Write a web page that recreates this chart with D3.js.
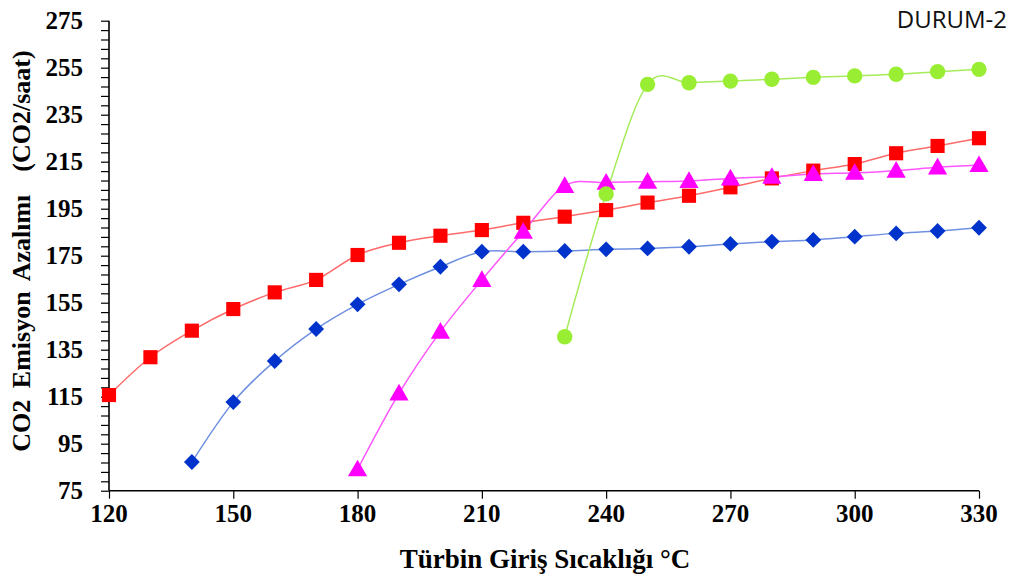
<!DOCTYPE html>
<html>
<head>
<meta charset="utf-8">
<script src="https://cdn.jsdelivr.net/npm/d3@7"></script>
<style>
  html, body { margin: 0; padding: 0; background: #fff; }
  svg { display: block; }
</style>
</head>
<body>
<svg id="chart" width="1014" height="580"></svg>
<script>
// Turbine inlet temperature (°C)
const temps = [120,130,140,150,160,170,180,190,200,210,220,230,240,250,260,270,280,290,300,310,320,330];

// CO2 emission reduction series (CO2/saat), each starting at its first temperature
const redStart = 120;
const redValues = [115.7,131.8,143.1,152.3,159.4,164.7,175.3,180.5,183.5,185.9,189.0,191.6,194.4,197.6,200.5,204.1,207.9,211.2,214.0,218.6,221.7,225.0];

const blueStart = 140;
const blueValues = [87.2,112.7,130.2,143.8,154.3,162.8,170.3,176.7,176.7,177.0,177.7,178.1,178.8,180.0,181.0,181.7,183.1,184.5,185.5,186.9];

const magentaStart = 180;
const magentaValues = [84.1,116.4,142.7,164.7,185.2,204.7,206.1,206.5,206.8,207.9,208.6,209.8,210.3,211.2,212.6,213.6];

const greenStart = 230;
const greenValues = [140.5,201.3,247.9,248.6,249.3,250.1,250.9,251.5,252.2,253.3,254.3];

// Axis ticks
const xTicks = [120,150,180,210,240,270,300,330];
const yTicks = [75,95,115,135,155,175,195,215,235,255,275];

const svg = d3.select("#chart");

const x = d3.scaleLinear().domain([120, 330]).range([109, 979]);
const y = d3.scaleLinear().domain([75, 275]).range([490.7, 20.7]);

function toPoints(start, values) {
  return values.map((v, i) => ({ t: temps[temps.indexOf(start) + i], v }));
}

const series = [
  { name: "red", pts: toPoints(redStart, redValues), line: "#ff6a6a", fill: "#ff0000", marker: "square" },
  { name: "blue", pts: toPoints(blueStart, blueValues), line: "#6f8fe0", fill: "#0033cc", marker: "diamond" },
  { name: "magenta", pts: toPoints(magentaStart, magentaValues), line: "#ff55ff", fill: "#ff00ff", marker: "triangle" },
  { name: "green", pts: toPoints(greenStart, greenValues), line: "#a6ec5a", fill: "#99ee33", marker: "circle" }
];

// Axes
const xAxis = d3.axisBottom(x).tickValues(xTicks).tickSize(8).tickFormat("");
const yAxis = d3.axisLeft(y).tickValues(d3.range(75, 276, 4)).tickSize(8).tickFormat("");

const gx = svg.append("g").attr("transform", `translate(0,${y(75)})`).call(xAxis);
const gy = svg.append("g").attr("transform", `translate(${x(120)},0)`).call(yAxis);
[gx, gy].forEach(g => {
  g.select(".domain").attr("stroke", "#000").attr("stroke-width", 1.6);
  g.selectAll(".tick line").attr("stroke", "#000").attr("stroke-width", 1.2);
});
gx.select(".domain").attr("d", `M${x(120)},0H${x(330)}`);
gy.select(".domain").attr("d", `M0,${y(75)}V${y(275)}`);

// Tick labels
const serif = "'Liberation Serif', 'Times New Roman', serif";
const labels = svg.append("g")
  .attr("font-family", serif)
  .attr("font-weight", "bold")
  .attr("fill", "#000");

labels.selectAll(".xl").data(xTicks).join("text")
  .attr("x", d => x(d)).attr("y", 522)
  .attr("text-anchor", "middle").attr("font-size", 25)
  .text(d => d);

labels.selectAll(".yl").data(yTicks).join("text")
  .attr("x", 83).attr("y", d => y(d) + 8.5)
  .attr("text-anchor", "end").attr("font-size", 25)
  .text(d => d);

// Axis titles
labels.append("text")
  .attr("x", 545).attr("y", 568)
  .attr("text-anchor", "middle").attr("font-size", 27)
  .text("Türbin Giriş Sıcaklığı °C");

labels.append("text")
  .attr("transform", "translate(30,251) rotate(-90)")
  .attr("text-anchor", "middle").attr("font-size", 26)
  .attr("word-spacing", 5)
  .attr("xml:space", "preserve")
  .text("CO2 Emisyon Azalımı  (CO2/saat)");

svg.append("text")
  .attr("x", 1007).attr("y", 28)
  .attr("text-anchor", "end")
  .attr("font-family", "'Open Sans', 'Noto Sans', sans-serif")
  .attr("font-size", 24)
  .attr("fill", "#111")
  .text("DURUM-2");

// Smoothed lines
const line = d3.line()
  .x(d => x(d.t))
  .y(d => y(d.v))
  .curve(d3.curveCatmullRom.alpha(0));

const plot = svg.append("g");
series.forEach(s => {
  plot.append("path")
    .datum(s.pts)
    .attr("fill", "none")
    .attr("stroke", s.line)
    .attr("stroke-width", 1.5)
    .attr("d", line);
});

// Markers
const shapes = {
  square: d3.symbol().type(d3.symbolSquare).size(200),
  diamond: d3.symbol().type(d3.symbolSquare).size(125),
  triangle: d3.symbol().type(d3.symbolTriangle).size(160),
  circle: d3.symbol().type(d3.symbolCircle).size(185)
};
series.forEach(s => {
  plot.append("g").selectAll("path")
    .data(s.pts)
    .join("path")
    .attr("transform", d => {
      const base = `translate(${x(d.t)},${y(d.v)})`;
      if (s.marker === "diamond") return base + " rotate(45)";
      if (s.marker === "triangle") return base + " translate(0,1.5)";
      return base;
    })
    .attr("d", shapes[s.marker])
    .attr("fill", s.fill);
});
</script>
</body>
</html>
